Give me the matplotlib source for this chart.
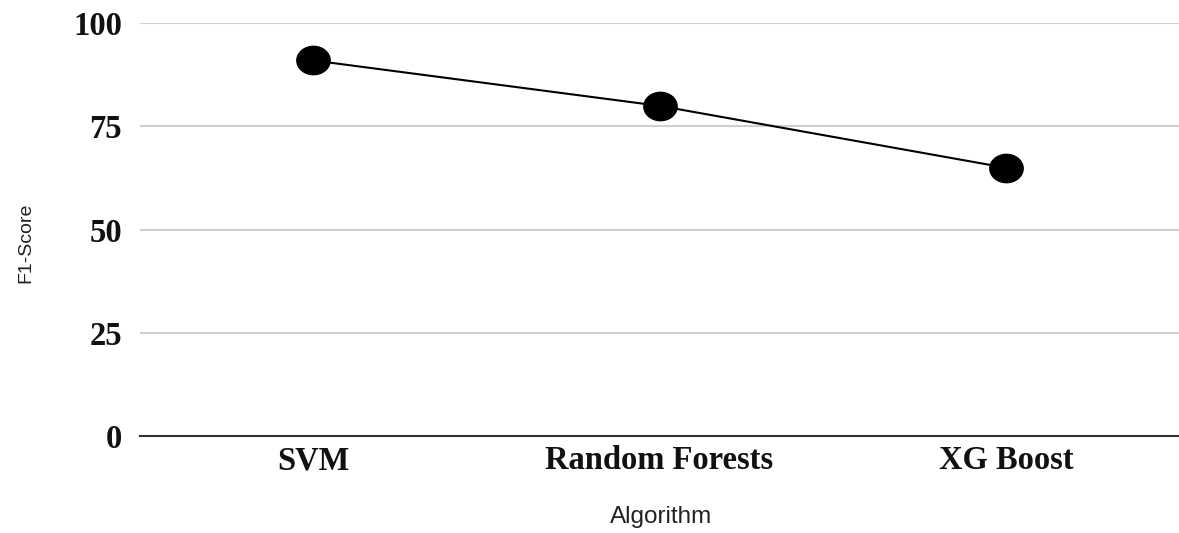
import matplotlib
matplotlib.use("Agg")
import matplotlib.pyplot as plt
from matplotlib.path import Path
from matplotlib.transforms import Affine2D

categories = ["SVM", "Random Forests", "XG Boost"]
f1_scores = [91, 80, 65]
y_ticks = [0, 25, 50, 75, 100]

W, H = 1179, 533
fig = plt.figure(figsize=(W / 100, H / 100), dpi=100)
ax = fig.add_axes([140 / W, 1 - 436 / H, (W - 140) / W, (436 - 23.3) / H])

ellipse = Path.unit_circle().transformed(Affine2D().scale(1.0, 0.85))

x = list(range(len(categories)))
ax.plot(x, f1_scores, color="black", linewidth=1.5, zorder=3,
        marker=ellipse, markersize=24, markerfacecolor="black",
        markeredgecolor="black")

ax.set_xlim(-0.5, len(categories) - 0.5)
ax.set_ylim(0, 100)
ax.set_yticks(y_ticks)
ax.set_yticklabels([str(v) for v in y_ticks])
ax.set_xticks(x)
ax.set_xticklabels(categories)

for s in ["top", "right", "left"]:
    ax.spines[s].set_visible(False)
ax.spines["bottom"].set_color("#333333")
ax.spines["bottom"].set_linewidth(1.5)
ax.spines["bottom"].set_zorder(2)

ax.grid(axis="y", color="#d0d0d0", linewidth=1.5)
ax.set_axisbelow(True)
ax.tick_params(axis="both", length=0)
ax.tick_params(axis="x", pad=6.5)
ax.tick_params(axis="y", pad=13)

for lab in ax.get_xticklabels() + ax.get_yticklabels():
    lab.set_fontfamily("Liberation Serif")
    lab.set_fontweight("bold")
    lab.set_fontsize(23.5)
    lab.set_color("#111111")

fig.text(661 / W, 1 - 523.5 / H, "Algorithm", ha="center", va="baseline",
         fontfamily="Liberation Sans", fontsize=17.5, color="#222222")
fig.text(26 / W, 1 - 242.5 / H, "F1-Score", ha="center", va="center",
         rotation=90, fontfamily="Liberation Sans", fontsize=14,
         color="#222222")

fig.savefig("out.png", dpi=100, facecolor="white")
